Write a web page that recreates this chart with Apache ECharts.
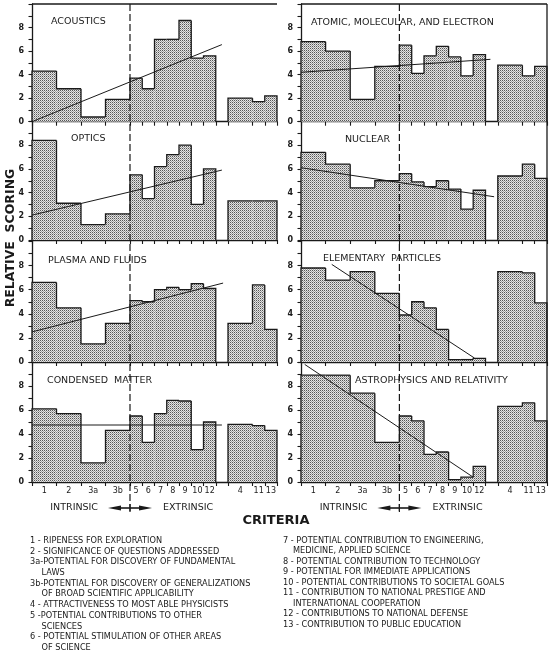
<!DOCTYPE html>
<html><head><meta charset="utf-8">
<script src="https://cdn.jsdelivr.net/npm/echarts@6/dist/echarts.min.js"></script>
<style>html,body{margin:0;padding:0;background:#fff}#c{width:553px;height:654px}</style>
</head><body><div id="c"></div><script>
// ---------------- DATA ----------------
const criteria = ['1','2','3a','3b','5','6','7','8','9','10','12','4','11','13'];
const criterionSpan = [2,2,2,2,1,1,1,1,1,1,1,2,1,1];   // bin weight of each criterion
const separateGroupStart = '4';                        // criteria 4, 11, 13 shown apart
const lastIntrinsic = '3b';

const panelTitles = ['ACOUSTICS','ATOMIC, MOLECULAR, AND ELECTRON','OPTICS','NUCLEAR',
  'PLASMA AND FLUIDS','ELEMENTARY  PARTICLES','CONDENSED  MATTER','ASTROPHYSICS AND RELATIVITY'];

const acoustics  = [4.3,2.8,0.4,1.9,3.7,2.8,7.0,7.0,8.6,5.4,5.6,2.0,1.7,2.2];
const atomic     = [6.8,6.0,1.9,4.7,6.5,4.1,5.6,6.4,5.5,3.9,5.7,4.8,3.9,4.7];
const optics     = [8.4,3.1,1.3,2.2,5.5,3.5,6.2,7.2,8.0,3.0,6.0,3.3,3.3,3.3];
const nuclear    = [7.4,6.4,4.4,5.0,5.6,4.9,4.5,5.0,4.3,2.6,4.2,5.4,6.4,5.2];
const plasma     = [6.6,4.5,1.5,3.2,5.1,5.0,6.0,6.2,6.0,6.5,6.1,3.2,6.4,2.7];
const elementary = [7.8,6.8,7.5,5.7,3.9,5.0,4.5,2.7,0.2,0.2,0.3,7.5,7.4,4.9];
const condensed  = [6.1,5.7,1.6,4.3,5.5,3.3,5.7,6.8,6.75,2.7,5.0,4.8,4.7,4.3];
const astro      = [8.9,8.9,7.4,3.3,5.5,5.1,2.3,2.5,0.2,0.4,1.3,6.3,6.6,5.1];

// trend lines: [criteria-axis position, score]
const acousticsTrend  = [[0,0.0],[15.5,6.55]];
const atomicTrend     = [[0,4.2],[15.4,5.3]];
const opticsTrend     = [[0,2.1],[15.5,5.9]];
const nuclearTrend    = [[0,6.1],[15.7,3.65]];
const plasmaTrend     = [[0,2.5],[15.6,6.55]];
const elementaryTrend = [[2.5,8.1],[14.1,0.33]];
const condensedTrend  = [[0,4.75],[15.5,4.75]];
const astroTrend      = [[0.3,9.8],[14.0,0.4]];

const yTicks = [0,2,4,6,8];

const legendLeft = [
  ['1 - RIPENESS FOR EXPLORATION',0],
  ['2 - SIGNIFICANCE OF QUESTIONS ADDRESSED',0],
  ['3a-POTENTIAL FOR DISCOVERY OF FUNDAMENTAL',0],
  ['LAWS',1],
  ['3b-POTENTIAL FOR DISCOVERY OF GENERALIZATIONS',0],
  ['OF BROAD SCIENTIFIC APPLICABILITY',1],
  ['4 - ATTRACTIVENESS TO MOST ABLE PHYSICISTS',0],
  ['5 -POTENTIAL CONTRIBUTIONS TO OTHER',0],
  ['SCIENCES',1],
  ['6 - POTENTIAL STIMULATION OF OTHER AREAS',0],
  ['OF SCIENCE',1]
];
const legendRight = [
  ['7 - POTENTIAL CONTRIBUTION TO ENGINEERING,',0],
  ['MEDICINE, APPLIED SCIENCE',1],
  ['8 - POTENTIAL CONTRIBUTION TO TECHNOLOGY',0],
  ['9 - POTENTIAL FOR IMMEDIATE APPLICATIONS',0],
  ['10 - POTENTIAL CONTRIBUTIONS TO SOCIETAL GOALS',0],
  ['11 - CONTRIBUTION TO NATIONAL PRESTIGE AND',0],
  ['INTERNATIONAL COOPERATION',1],
  ['12 - CONTRIBUTIONS TO NATIONAL DEFENSE',0],
  ['13 - CONTRIBUTION TO PUBLIC EDUCATION',0]
];

const panelValues = [acoustics, atomic, optics, nuclear, plasma, elementary, condensed, astro];
const panelTrends = [acousticsTrend, atomicTrend, opticsTrend, nuclearTrend, plasmaTrend, elementaryTrend, condensedTrend, astroTrend];

// ---------------- LAYOUT ----------------
const FONT = 'DejaVu Sans';
const INK = '#1a1a1a';
const gapWidth = 1;
const colLeft = [32, 301], colWidth = [245, 246];
const rowTop = [4, 121.5, 241.5, 362], rowHeight = [117.7, 118.5, 120.5, 120];
const titlePos = [[51,22],[311,23],[71,139],[345,139.5],[48,261],[323,259],[47,381],[355,380.5]];

// bins
const bins = []; let cur = 0;
criteria.forEach((c, i) => {
  if (c === separateGroupStart) cur += gapWidth;
  bins.push([cur, cur + criterionSpan[i]]);
  cur += criterionSpan[i];
});
const xMax = cur;
const boundary = bins[criteria.indexOf(lastIntrinsic)][1];
const tickEdges = [];
bins.forEach(b => { if (!tickEdges.includes(b[0])) tickEdges.push(b[0]); if (!tickEdges.includes(b[1])) tickEdges.push(b[1]); });
const centers = bins.map(b => (b[0] + b[1]) / 2);

// stipple pattern
const pc = document.createElement('canvas'); pc.width = 2; pc.height = 2;
const pg = pc.getContext('2d');
pg.fillStyle = '#e4e4e4'; pg.fillRect(0,0,2,2);
pg.fillStyle = '#555'; pg.fillRect(0,0,1,1);
pg.fillStyle = '#a0a0a0'; pg.fillRect(1,1,1,1);
const stipple = { image: pc, repeat: 'repeat' };

function buildData(values) {
  const n = values.length;
  return values.map((v, i) => {
    const first = i === 0 || bins[i][0] !== bins[i-1][1];
    const last = i === n - 1 || bins[i+1][0] !== bins[i][1];
    return [bins[i][0], bins[i][1], v, first ? 0 : values[i-1], last ? 1 : 0];
  });
}

function renderItem(params, api) {
  const x0 = api.value(0), x1 = api.value(1), h = api.value(2), hp = api.value(3), last = api.value(4);
  const pTop = api.coord([x0, h]);
  const pEnd = api.coord([x1, 0]);
  const pPrev = api.coord([x0, hp]);
  const pts = [[pPrev[0], pPrev[1]], [pTop[0], pTop[1]], [pEnd[0], pTop[1]]];
  if (last) pts.push([pEnd[0], pEnd[1]]);
  return { type: 'group', children: [
    { type: 'rect', shape: { x: pTop[0], y: pTop[1], width: pEnd[0] - pTop[0], height: pEnd[1] - pTop[1] },
      style: { fill: stipple } },
    { type: 'polyline', shape: { points: pts }, style: { stroke: INK, lineWidth: 1.3, fill: null } }
  ]};
}

const grids = [], xAxes = [], yAxes = [], series = [];
panelValues.forEach((vals, i) => {
  const col = i % 2, row = Math.floor(i / 2);
  grids.push({ left: colLeft[col], top: rowTop[row], width: colWidth[col], height: rowHeight[row], outerBoundsMode: 'none' });
  const bottomRow = row === 3;
  xAxes.push({
    type: 'value', gridIndex: i, min: 0, max: xMax,
    axisLine: { show: true, onZero: false, lineStyle: { color: INK, width: 1.3 } },
    axisTick: { show: true, customValues: tickEdges, length: 4, lineStyle: { color: INK, width: 1.1 } },
    axisLabel: { show: bottomRow, customValues: centers, margin: 5, fontSize: 8, color: INK, fontFamily: FONT,
      formatter: v => { const k = centers.findIndex(c => Math.abs(c - v) < 1e-6); return k >= 0 ? criteria[k] : ''; } },
    splitLine: { show: false }
  });
  yAxes.push({
    type: 'value', gridIndex: i, min: 0, max: 10, interval: 1,
    axisLine: { show: true, lineStyle: { color: INK, width: 1.3 } },
    axisTick: { show: true, length: 3.5, lineStyle: { color: INK, width: 1.1 } },
    axisLabel: { margin: 8, fontSize: 8, color: INK, fontFamily: FONT, fontWeight: 'bold',
      formatter: v => yTicks.includes(v) ? String(v) : '' },
    splitLine: { show: false }
  });
  series.push({
    type: 'custom', xAxisIndex: i, yAxisIndex: i, renderItem,
    encode: { x: [0, 1], y: 2 }, data: buildData(vals), z: 2, silent: true
  });
  series.push({
    type: 'line', xAxisIndex: i, yAxisIndex: i, data: panelTrends[i], symbol: 'none',
    lineStyle: { color: INK, width: 1 }, z: 5, silent: true
  });
});

const chart = echarts.init(document.getElementById('c'));
chart.setOption({
  animation: false, backgroundColor: '#fff',
  grid: grids, xAxis: xAxes, yAxis: yAxes, series
});

// annotations placed through the axes' own scales
const g = [];
panelTitles.forEach((t, i) => {
  g.push({ type: 'text', x: titlePos[i][0], y: titlePos[i][1], z: 50,
    style: { text: t, fontSize: 9.5, fontFamily: FONT, fill: INK, verticalAlign: 'middle', align: 'left' } });
});
[0, 1].forEach(col => {
  const top = chart.convertToPixel({ gridIndex: col }, [0, 10]);
  const topRight = chart.convertToPixel({ gridIndex: col }, [xMax, 10]);
  const bottom = chart.convertToPixel({ gridIndex: 6 + col }, [boundary, 0]);
  const bx = chart.convertToPixel({ gridIndex: col }, [boundary, 0])[0];
  g.push({ type: 'line', z: 40, shape: { x1: top[0], y1: top[1], x2: topRight[0], y2: topRight[1] },
    style: { stroke: INK, lineWidth: 1.3 } });
  if (col === 1) {
    const br = chart.convertToPixel({ gridIndex: 7 }, [xMax, 0]);
    g.push({ type: 'line', z: 40, shape: { x1: topRight[0], y1: topRight[1], x2: br[0], y2: br[1] },
      style: { stroke: INK, lineWidth: 1.3 } });
  }
  const ay = bottom[1] + 26;
  g.push({ type: 'line', z: 45, shape: { x1: bx, y1: top[1], x2: bx, y2: ay + 6 },
    style: { stroke: INK, lineWidth: 1.2, lineDash: [7, 3] } });
  g.push({ type: 'polygon', z: 45, shape: { points: [[bx - 22, ay], [bx - 9, ay - 2.6], [bx - 9, ay + 2.6]] }, style: { fill: INK } });
  g.push({ type: 'polygon', z: 45, shape: { points: [[bx + 22, ay], [bx + 9, ay - 2.6], [bx + 9, ay + 2.6]] }, style: { fill: INK } });
  g.push({ type: 'line', z: 45, shape: { x1: bx - 10, y1: ay, x2: bx + 10, y2: ay }, style: { stroke: INK, lineWidth: 1.6 } });
  g.push({ type: 'line', z: 45, shape: { x1: bx, y1: ay - 4, x2: bx, y2: ay + 4 }, style: { stroke: INK, lineWidth: 1.2 } });
  g.push({ type: 'text', z: 45, x: bx - 32, y: ay, style: { text: 'INTRINSIC', fontSize: 9.5, fontFamily: FONT, fill: INK, align: 'right', verticalAlign: 'middle' } });
  g.push({ type: 'text', z: 45, x: bx + 33, y: ay, style: { text: 'EXTRINSIC', fontSize: 9.5, fontFamily: FONT, fill: INK, align: 'left', verticalAlign: 'middle' } });
});
g.push({ type: 'text', z: 45, x: 276, y: 521, style: { text: 'CRITERIA', fontSize: 13, fontWeight: 'bold', fontFamily: FONT, fill: INK, align: 'center', verticalAlign: 'middle' } });
g.push({ type: 'text', z: 45, x: 11, y: 238, rotation: Math.PI / 2,
  style: { text: 'RELATIVE  SCORING', fontSize: 12.5, fontWeight: 'bold', fontFamily: FONT, fill: INK, align: 'center', verticalAlign: 'middle' } });
legendLeft.forEach((l, k) => {
  g.push({ type: 'text', z: 45, x: l[1] ? 41.5 : 30, y: 540.7 + k * 10.73,
    style: { text: l[0], fontSize: 8.2, fontFamily: FONT, fill: INK, verticalAlign: 'middle' } });
});
legendRight.forEach((l, k) => {
  g.push({ type: 'text', z: 45, x: l[1] ? 293 : 283, y: 540.7 + k * 10.5,
    style: { text: l[0], fontSize: 8.2, fontFamily: FONT, fill: INK, verticalAlign: 'middle' } });
});
chart.setOption({ graphic: g });
</script></body></html>
